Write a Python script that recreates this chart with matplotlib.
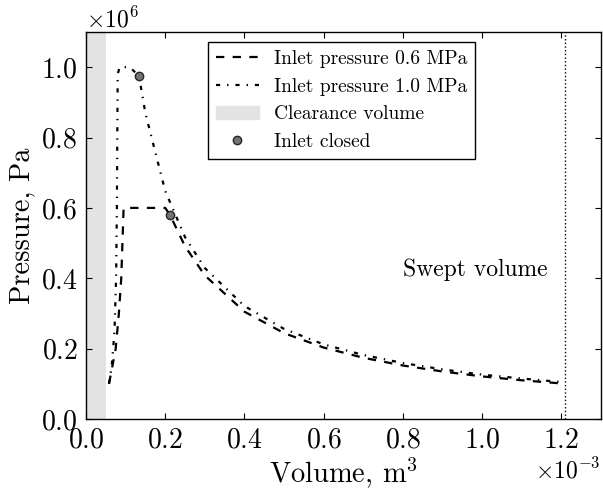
import matplotlib
matplotlib.use('Agg')
import matplotlib.pyplot as plt
from matplotlib.patches import Patch
from matplotlib.lines import Line2D
from matplotlib.ticker import MultipleLocator

plt.rcParams['font.family'] = 'serif'
plt.rcParams['font.serif'] = ['cmr10']
plt.rcParams['mathtext.fontset'] = 'cm'
plt.rcParams['axes.formatter.use_mathtext'] = True
plt.rcParams['axes.formatter.limits'] = [-3, 3]
plt.rcParams['axes.unicode_minus'] = False
plt.rcParams['lines.scale_dashes'] = False

# volume in m^3 (x1e-3), pressure in Pa (x1e6)
vol_06 = [0.058, 0.065, 0.075, 0.083, 0.089, 0.092, 0.095, 0.12, 0.16, 0.20,
          0.212, 0.25, 0.3, 0.4, 0.5, 0.6, 0.7, 0.8, 0.9, 1.0, 1.1, 1.2]
pres_06 = [0.10, 0.14, 0.20, 0.30, 0.40, 0.50, 0.60, 0.60, 0.60, 0.60,
           0.58, 0.491, 0.408, 0.305, 0.244, 0.203, 0.174, 0.152, 0.135, 0.121, 0.110, 0.101]

vol_10 = [0.058, 0.065, 0.072, 0.076, 0.078, 0.079, 0.080, 0.085, 0.11, 0.12,
          0.134, 0.15, 0.2, 0.25, 0.3, 0.4, 0.5, 0.6, 0.7, 0.8, 0.9, 1.0, 1.1, 1.2]
pres_10 = [0.10, 0.15, 0.25, 0.40, 0.60, 0.80, 0.98, 1.0, 1.0, 0.99,
           0.974, 0.869, 0.648, 0.517, 0.429, 0.321, 0.256, 0.212, 0.182, 0.159, 0.141, 0.126, 0.115, 0.105]

closed_vol = [0.212, 0.134]
closed_pres = [0.58, 0.974]

clearance = 0.05
swept = 1.21

dash = (6, 6)
dashdot = (3, 5, 1, 5)

fig = plt.figure(figsize=(6.03, 4.97), dpi=100)
ax = fig.add_axes([0.1426, 0.157, 0.854, 0.7786])

ax.axvspan(0, clearance * 1e-3, color='0.89', lw=0, zorder=0)
ax.axvline(swept * 1e-3, color='k', ls=':', lw=1)

ax.plot([v * 1e-3 for v in vol_06], [p * 1e6 for p in pres_06], 'k', ls='--',
        dashes=dash, lw=1.6)
ax.plot([v * 1e-3 for v in vol_10], [p * 1e6 for p in pres_10], 'k', ls='-.',
        dashes=dashdot, lw=1.6)
ax.plot([v * 1e-3 for v in closed_vol], [p * 1e6 for p in closed_pres], 'o',
        ms=6, mfc='0.45', mec='0.15', mew=1, zorder=5)

ax.text(0.8e-3, 0.423e6, 'Swept volume', fontsize=17, va='center')

ax.set_xlim(0, 1.3e-3)
ax.set_ylim(0, 1.1e6)
ax.xaxis.set_major_locator(MultipleLocator(0.2e-3))
ax.yaxis.set_major_locator(MultipleLocator(0.2e6))
ax.set_xlabel('Volume, m$^3$', fontsize=20.5, labelpad=2)
ax.set_ylabel('Pressure, Pa', fontsize=20.5)
ax.tick_params(direction='in', top=True, right=True, length=4, width=0.8,
               labelsize=20, pad=6)
ax.xaxis.get_offset_text().set_fontsize(17)
ax.yaxis.get_offset_text().set_fontsize(17)
for s in ax.spines.values():
    s.set_linewidth(1)

handles = [Line2D([], [], color='k', ls='--', dashes=dash, lw=1.6),
           Line2D([], [], color='k', ls='-.', dashes=dashdot, lw=1.6),
           Patch(color='0.89'),
           Line2D([], [], ls='', marker='o', ms=6, mfc='0.45', mec='0.15')]
labels = ['Inlet pressure 0.6 MPa', 'Inlet pressure 1.0 MPa',
          'Clearance volume', 'Inlet closed']
leg = ax.legend(handles, labels, loc='upper left', bbox_to_anchor=(0.237, 0.974),
                borderaxespad=0, fontsize=14, fancybox=False, edgecolor='k',
                framealpha=1, handlelength=2.2)
leg.get_frame().set_linewidth(1)

fig.savefig('out.png', dpi=100)
